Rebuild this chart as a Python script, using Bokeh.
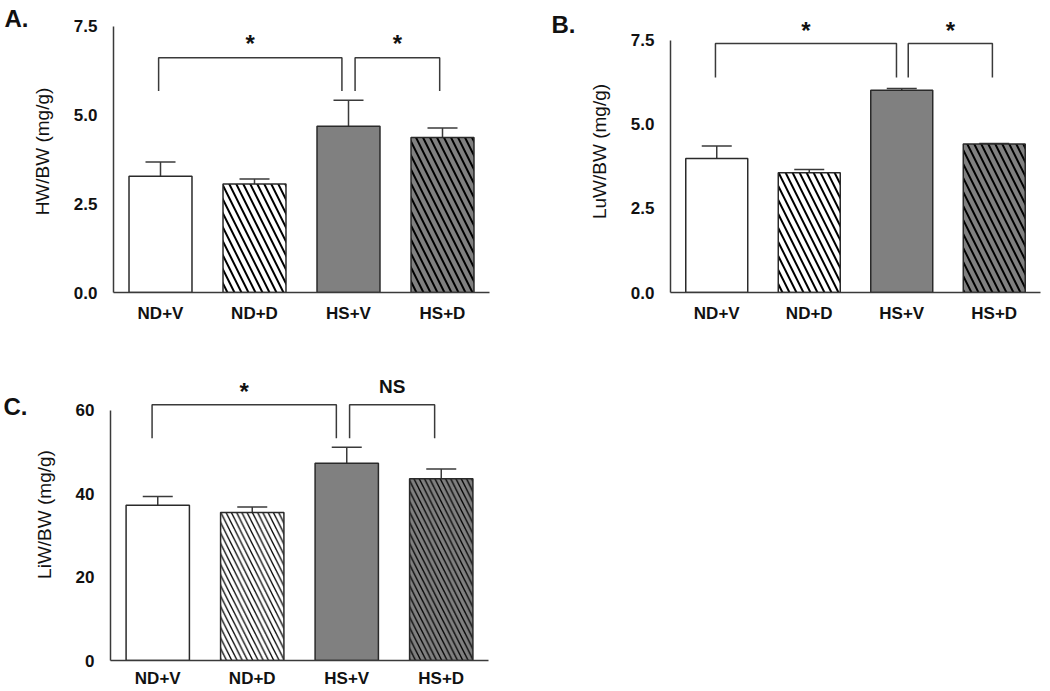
import numpy as np
from bokeh.plotting import figure
from bokeh.models import (ColumnDataSource, Whisker, TeeHead, Range1d, LinearAxis,
                          FixedTicker, PrintfTickFormatter)
from bokeh.layouts import column, row
from bokeh.core.properties import value
from bokeh.embed import file_html
from bokeh.resources import INLINE

# ---------------- data ----------------
groups = ["ND+V", "ND+D", "HS+V", "HS+D"]
fills = ["white", "white", "#808080", "#808080"]
hatches = [" ", "\\", " ", "\\"]

hw_mean = [3.28, 3.06, 4.69, 4.37]
hw_sem = [0.40, 0.14, 0.73, 0.27]

luw_mean = [3.99, 3.56, 6.02, 4.42]
luw_sem = [0.37, 0.10, 0.05, 0.01]

liw_mean = [37.2, 35.5, 47.3, 43.6]
liw_sem = [2.1, 1.3, 3.8, 2.3]

a_marks = ["*", "*"]
b_marks = ["*", "*"]
c_marks = ["*", "NS"]

FONT = "Liberation Sans"
AX = "#3a3a3a"
TXT = "#111111"


def panel(mean, sem, ylabel, yticks, fmt, y_end, axis_top, marks,
          geo, brk, mark_y, hatch, xstand, letter, letter_y, letter_stand):
    (W, H, bl, br, bt, bb) = geo
    x = np.arange(len(groups))
    p = figure(width=W, height=H, x_range=Range1d(-0.5, len(groups) - 0.5),
               y_range=Range1d(0, y_end), output_backend="svg",
               toolbar_location=None, min_border_left=bl, min_border_right=br,
               min_border_top=bt, min_border_bottom=bb)
    p.outline_line_color = None
    p.xgrid.grid_line_color = None
    p.ygrid.grid_line_color = None
    p.background_fill_color = "white"

    up = [m + s for m, s in zip(mean, sem)]
    src = ColumnDataSource(dict(x=x, mean=mean, upper=up, fill=fills,
                                hatch=hatches, name=groups))
    p.vbar(x="x", top="mean", width=0.67, source=src, fill_color="fill",
           line_color="#2a2a2a", line_width=1.5, hatch_pattern="hatch",
           hatch_color="black", hatch_weight=hatch[0], hatch_scale=hatch[1])
    p.add_layout(Whisker(source=src, base="x", lower="mean", upper="upper",
                         upper_head=TeeHead(size=30, line_color=AX, line_width=1.5),
                         lower_head=None, line_color=AX, line_width=1.5))

    # significance brackets
    (top, leg, l0, r0, l1, r1) = brk
    xs = [[x[0] + l0, x[0] + l0, x[2] + r0, x[2] + r0],
          [x[2] + l1, x[2] + l1, x[3] + r1, x[3] + r1]]
    ys = [[leg, top, top, leg], [leg, top, top, leg]]
    p.multi_line(xs=xs, ys=ys, line_color=AX, line_width=1.5)
    mx = [(xs[0][0] + xs[0][2]) / 2, (xs[1][0] + xs[1][2]) / 2]
    p.text(x=mx, y=[mark_y] * 2, text=marks, text_align="center",
           text_baseline="middle",
           y_offset=[6 if m == "*" else 1 for m in marks],
           text_font=value(FONT), text_font_style="bold",
           text_font_size=["24px" if m == "*" else "19px" for m in marks],
           text_color=TXT)

    # axes
    p.yaxis.bounds = (0, axis_top)
    p.yaxis.ticker = FixedTicker(ticks=yticks)
    p.yaxis.formatter = PrintfTickFormatter(format=fmt)
    p.yaxis.axis_label = ylabel
    p.yaxis.axis_label_text_font = FONT
    p.yaxis.axis_label_text_font_style = "normal"
    p.yaxis.axis_label_text_font_size = "19px"
    p.yaxis.axis_label_text_color = TXT
    p.yaxis.axis_label_standoff = 18
    p.yaxis.major_tick_out = 7
    p.yaxis.major_tick_in = 0
    p.yaxis.minor_tick_line_color = None
    p.yaxis.major_label_standoff = 9

    p.xaxis.ticker = FixedTicker(ticks=list(x))
    p.xaxis.major_label_overrides = {int(i): g for i, g in zip(x, groups)}
    p.xaxis.minor_tick_line_color = None
    p.xaxis.major_label_standoff = xstand

    for ax in (p.xaxis, p.yaxis):
        ax.axis_line_color = AX
        ax.axis_line_width = 1.5
        ax.major_tick_line_color = AX if ax is p.yaxis else None
        ax.major_tick_line_width = 1.5
        ax.major_label_text_font = FONT
        ax.major_label_text_font_style = "bold"
        ax.major_label_text_font_size = "17px"
        ax.major_label_text_color = TXT

    # panel letter, as the only label of an outer, line-less left axis
    lax = LinearAxis(ticker=FixedTicker(ticks=[letter_y]),
                     major_label_overrides={letter_y: letter},
                     axis_line_color=None, major_tick_line_color=None,
                     minor_tick_line_color=None, major_tick_in=0,
                     major_tick_out=0, major_label_standoff=letter_stand,
                     major_label_orientation="horizontal",
                     major_label_text_font=FONT,
                     major_label_text_font_style="bold",
                     major_label_text_font_size="24px",
                     major_label_text_color=TXT)
    p.add_layout(lax, "left")
    return p


pA = panel(hw_mean, hw_sem, "HW/BW (mg/g)", [0, 2.5, 5.0, 7.5], "%.1f",
           7.95, 7.5, a_marks, (520, 340, 113, 31, 10, 48),
           (6.62, 5.68, -0.02, -0.07, 0.07, -0.03), 7.2, (2, 14), 5,
           "A.", 7.72, 0)

pB = panel(luw_mean, luw_sem, "LuW/BW (mg/g)", [0, 2.5, 5.0, 7.5], "%.1f",
           8.39, 7.5, b_marks, (528, 340, 150, 8, 10, 48),
           (7.41, 6.40, -0.014, -0.057, 0.07, -0.02), 7.98, (2, 14), 5,
           "B.", 7.97, 10)

pC = panel(liw_mean, liw_sem, "LiW/BW (mg/g)", [0, 20, 40, 60], "%d",
           70, 60, c_marks, (520, 350, 110, 32, 28, 27),
           (61.3, 53.3, -0.06, -0.11, 0.03, -0.07), 65.9, (1.3, 10.5), 2,
           "C.", 61.0, 3)

layout = column(row(pA, pB), pC)
open("out.html", "w").write(file_html(layout, INLINE))
